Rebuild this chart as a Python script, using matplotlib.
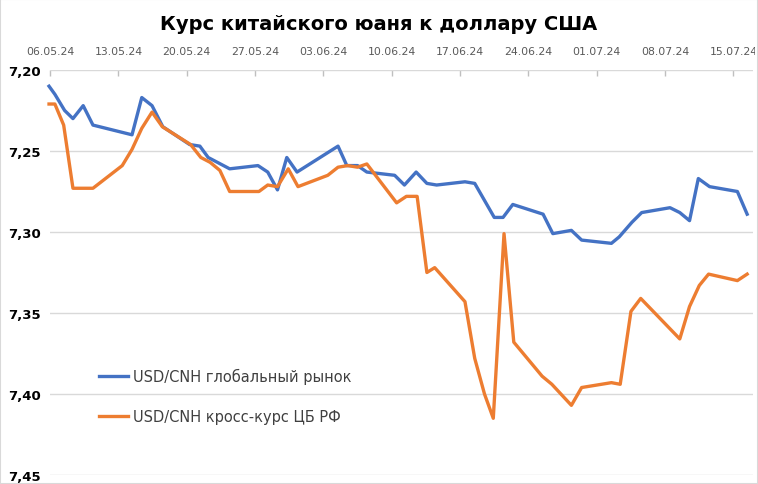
import matplotlib
matplotlib.use("Agg")
import matplotlib.pyplot as plt
from matplotlib.patches import Rectangle
from matplotlib.ticker import FuncFormatter

# days since 06.05.24
blue_days = [-0.1, 0.5, 1.5, 2.35, 3.4, 4.4, 8.4, 9.4, 10.45, 11.55,
             14.3, 15.35, 16.2, 18.4, 21.3, 22.3, 23.3, 24.25, 25.3,
             29.5, 30.4, 31.5, 32.45, 35.3, 36.3, 37.5, 38.6, 39.6,
             42.5, 43.5, 45.5, 46.4, 47.4, 50.5, 51.5, 53.4, 54.45,
             57.5, 58.3, 59.6, 60.6, 63.5, 64.5, 65.5, 66.4, 67.55, 70.4, 71.4]
blue_vals = [7.210, 7.215, 7.225, 7.230, 7.222, 7.234, 7.240, 7.217, 7.222, 7.235,
             7.246, 7.247, 7.254, 7.261, 7.259, 7.263, 7.274, 7.254, 7.263,
             7.247, 7.259, 7.259, 7.263, 7.265, 7.271, 7.263, 7.270, 7.271,
             7.269, 7.270, 7.291, 7.291, 7.283, 7.289, 7.301, 7.299, 7.305,
             7.307, 7.303, 7.294, 7.288, 7.285, 7.288, 7.293, 7.267, 7.272, 7.275, 7.289]

orange_days = [-0.1, 0.5, 1.4, 2.35, 4.4, 7.4, 8.4, 9.4, 10.45, 11.5,
               14.4, 15.45, 16.4, 17.4, 18.4, 21.4, 22.3, 23.3, 24.4, 25.4,
               28.45, 29.5, 30.5, 31.5, 32.45, 35.5, 36.5, 37.6, 38.6, 39.4,
               42.5, 43.5, 44.5, 45.4, 46.5, 47.5, 50.4, 51.4, 53.4, 54.45,
               57.5, 58.4, 59.5, 60.5, 64.5, 65.5, 66.5, 67.45, 70.4, 71.4]
orange_vals = [7.221, 7.221, 7.234, 7.273, 7.273, 7.259, 7.249, 7.236, 7.226, 7.235,
               7.246, 7.254, 7.257, 7.262, 7.275, 7.275, 7.271, 7.272, 7.261, 7.272,
               7.265, 7.260, 7.259, 7.260, 7.258, 7.282, 7.278, 7.278, 7.325, 7.322,
               7.343, 7.378, 7.400, 7.415, 7.301, 7.368, 7.389, 7.394, 7.407, 7.396,
               7.393, 7.394, 7.349, 7.341, 7.366, 7.346, 7.333, 7.326, 7.330, 7.326]

tick_days = [0, 7, 14, 21, 28, 35, 42, 49, 56, 63, 70]
tick_labels = ['06.05.24', '13.05.24', '20.05.24', '27.05.24', '03.06.24', '10.06.24',
               '17.06.24', '24.06.24', '01.07.24', '08.07.24', '15.07.24']
y_ticks = [7.20, 7.25, 7.30, 7.35, 7.40, 7.45]

title = 'Курс китайского юаня к доллару США'
label_blue = 'USD/CNH глобальный рынок'
label_orange = 'USD/CNH кросс-курс ЦБ РФ'

W, H = 758, 485
fig = plt.figure(figsize=(W / 100, H / 100), dpi=100)
ax = fig.add_axes([50 / W, 1 - 476 / H, (753 - 50) / W, (476 - 71) / H])

ax.plot(blue_days, blue_vals, color='#4472C4', lw=2.4, label=label_blue,
        solid_joinstyle='round', clip_on=False, zorder=3)
ax.plot(orange_days, orange_vals, color='#ED7D31', lw=2.4, label=label_orange,
        solid_joinstyle='round', clip_on=False, zorder=3)

ax.set_xlim(0, 72)
ax.set_ylim(7.45, 7.20)
ax.set_yticks(y_ticks)
ax.yaxis.set_major_formatter(FuncFormatter(lambda v, p: f'{v:.2f}'.replace('.', ',')))
ax.grid(axis='y', color='#d9d9d9', lw=1)
ax.set_axisbelow(True)
for s in ax.spines.values():
    s.set_visible(False)

ax.tick_params(axis='y', length=0, pad=30, labelsize=9.5, labelcolor='black')
for lbl in ax.get_yticklabels():
    lbl.set_fontweight('bold')
    lbl.set_horizontalalignment('left')

ax.xaxis.tick_top()
ax.set_xticks(tick_days)
ax.set_xticklabels(tick_labels)
ax.tick_params(axis='x', direction='in', length=4, color='#bfbfbf', width=1,
               pad=10, labelsize=7.8, labelcolor='#595959')
clip = Rectangle((0, 0), 755 / W, 1, transform=fig.transFigure)
for lbl in ax.get_xticklabels():
    lbl.set_clip_path(clip)

fig.text(379 / W, 1 - 25 / H, title, ha='center', va='center',
         fontsize=14, fontweight='bold', color='black')

leg = ax.legend(loc='upper left', bbox_to_anchor=(99 / W, 1 - 369 / H),
                bbox_transform=fig.transFigure, frameon=False, fontsize=10.5,
                handlelength=2.0, handletextpad=0.3, labelspacing=1.7,
                borderpad=0, borderaxespad=0)
for t in leg.get_texts():
    t.set_color('#404040')

fig.patches.append(Rectangle((0, 0), 1, 1, transform=fig.transFigure, fill=False,
                             ec='#d9d9d9', lw=1.5))

fig.savefig('out.png', dpi=100)
